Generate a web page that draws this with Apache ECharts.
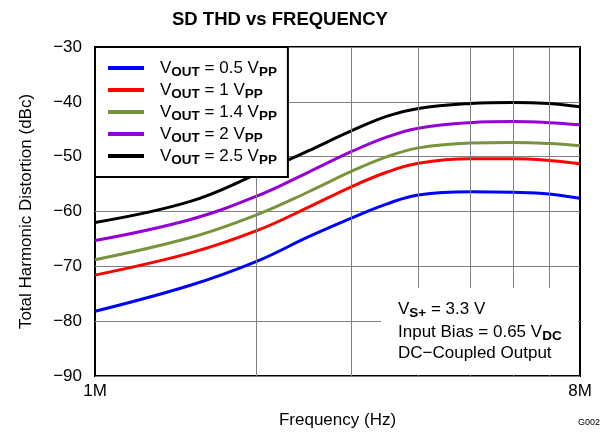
<!DOCTYPE html>
<html>
<head>
<meta charset="utf-8">
<script src="https://cdn.jsdelivr.net/npm/echarts@6/dist/echarts.min.js"></script>
<style>html,body{margin:0;padding:0;background:#fff}#c{width:608px;height:434px}</style>
</head>
<body>
<div id="c"></div>
<script>
// Frequencies (Hz)
var freqs = [1e6, 1.5e6, 2e6, 2.5e6, 3e6, 3.5e6, 4e6, 5e6, 6e6, 7e6, 8e6];
// THD (dBc) per output swing
var v05 = [-78.2, -73.5, -69.1, -64.6, -61.2, -58.6, -57.0, -56.4, -56.5, -56.8, -57.6];
var v10 = [-71.6, -67.6, -63.5, -59.2, -55.5, -52.8, -51.2, -50.4, -50.4, -50.7, -51.3];
var v14 = [-68.8, -64.8, -60.6, -56.4, -52.7, -50.0, -48.4, -47.5, -47.4, -47.6, -48.0];
var v20 = [-65.3, -61.5, -57.2, -52.8, -49.1, -46.4, -44.8, -43.8, -43.6, -43.8, -44.2];
var v25 = [-62.0, -58.2, -53.2, -48.9, -45.3, -42.6, -41.2, -40.3, -40.1, -40.3, -40.9];
var seriesNames = ['0.5', '1', '1.4', '2', '2.5'];
var seriesValues = [v05, v10, v14, v20, v25];
var colors = ['#0000FF', '#FF0000', '#77933C', '#9400D3', '#000000'];
var xTickLabels = [1e6, 8e6];
var xGridValues = [2e6, 3e6, 4e6, 5e6, 6e6, 7e6];
var yTicks = {min: -90, max: -30, interval: 10};

var FONT = 'Liberation Sans, Arial, sans-serif';
var rich = {
  m: {fontSize: 17, fontFamily: FONT, color: '#000', lineHeight: 22},
  s: {fontSize: 13.5, fontFamily: FONT, fontWeight: 'bold', color: '#000', lineHeight: 22, padding: [8, 0, 0, 0]}
};

function pairs(vals) { return freqs.map(function (f, i) { return [f, vals[i]]; }); }

var series = seriesValues.map(function (vals, k) {
  return {
    name: 'V_OUT = ' + seriesNames[k] + ' V_PP',
    type: 'line',
    data: pairs(vals),
    smooth: 0.4,
    showSymbol: false,
    symbol: 'none',
    lineStyle: {color: colors[k], width: 3},
    itemStyle: {color: colors[k]},
    z: 3
  };
});
series.push({
  name: 'grid', type: 'line', data: [], silent: true, z: 1,
  markLine: {
    silent: true, symbol: 'none', label: {show: false},
    lineStyle: {color: '#808080', width: 1, type: 'solid'},
    data: xGridValues.map(function (v) { return {xAxis: v}; })
  }
});

var chart = echarts.init(document.getElementById('c'), null, {renderer: 'canvas'});
chart.setOption({
  animation: false,
  backgroundColor: '#fff',
  title: {
    text: 'SD THD vs FREQUENCY', left: 167, top: 5,
    textStyle: {fontFamily: FONT, fontSize: 18.5, fontWeight: 'bold', color: '#000'}
  },
  grid: {left: 95, right: 28, top: 47, bottom: 58, show: true, borderColor: '#000', borderWidth: 2, backgroundColor: 'transparent'},
  legend: {
    orient: 'vertical', left: 95, top: 47, z: 10,
    data: series.slice(0, 5).map(function (s) { return s.name; }),
    backgroundColor: '#fff', borderColor: '#000', borderWidth: 2,
    padding: [10, 11, 10, 13],
    itemGap: 0, itemWidth: 36, itemHeight: 4, icon: 'rect',
    selectedMode: false,
    formatter: function (name) {
      var val = name.replace('V_OUT = ', '').replace(' V_PP', '');
      return '{m|V}{s|OUT}{m| = ' + val + ' V}{s|PP}';
    },
    textStyle: {rich: rich, lineHeight: 22, padding: [0, 0, 0, 11]}
  },
  xAxis: {
    type: 'log', logBase: 10, min: 1e6, max: 8e6,
    name: 'Frequency (Hz)', nameLocation: 'middle', nameGap: 36,
    nameTextStyle: {fontFamily: FONT, fontSize: 17, color: '#000'},
    axisLine: {show: false}, axisTick: {show: false}, splitLine: {show: false},
    axisLabel: {
      customValues: xTickLabels, showMinLabel: true, showMaxLabel: true,
      fontFamily: FONT, fontSize: 17, color: '#000', margin: 7,
      formatter: function (v) { return Math.round(v / 1e6) + 'M'; }
    }
  },
  yAxis: {
    type: 'value', min: yTicks.min, max: yTicks.max, interval: yTicks.interval,
    name: 'Total Harmonic Distortion (dBc)', nameLocation: 'middle', nameGap: 60,
    nameTextStyle: {fontFamily: FONT, fontSize: 17, color: '#000'},
    axisLine: {show: false}, axisTick: {show: false},
    splitLine: {show: true, lineStyle: {color: '#808080', width: 1}},
    axisLabel: {
      fontFamily: FONT, fontSize: 17, color: '#000', margin: 13,
      formatter: function (v) { return String(v).replace('-', '\u2212'); }
    }
  },
  graphic: [
    {type: 'rect', z: 20, shape: {x: 381, y: 288, width: 197, height: 87}, style: {fill: '#fff'}},
    {type: 'text', z: 21, left: 398, top: 298, style: {text: '{m|V}{s|S+}{m| = 3.3 V}', rich: rich}},
    {type: 'text', z: 21, left: 398, top: 321, style: {text: '{m|Input Bias = 0.65 V}{s|DC}', rich: rich}},
    {type: 'text', z: 21, left: 398, top: 345, style: {text: '{m|DC\u2212Coupled Output}', rich: rich}},
    {type: 'text', z: 21, left: 578, top: 418, style: {text: 'G002', fontSize: 9, fontFamily: FONT, fill: '#000'}}
  ],
  series: series
});
</script>
</body>
</html>
